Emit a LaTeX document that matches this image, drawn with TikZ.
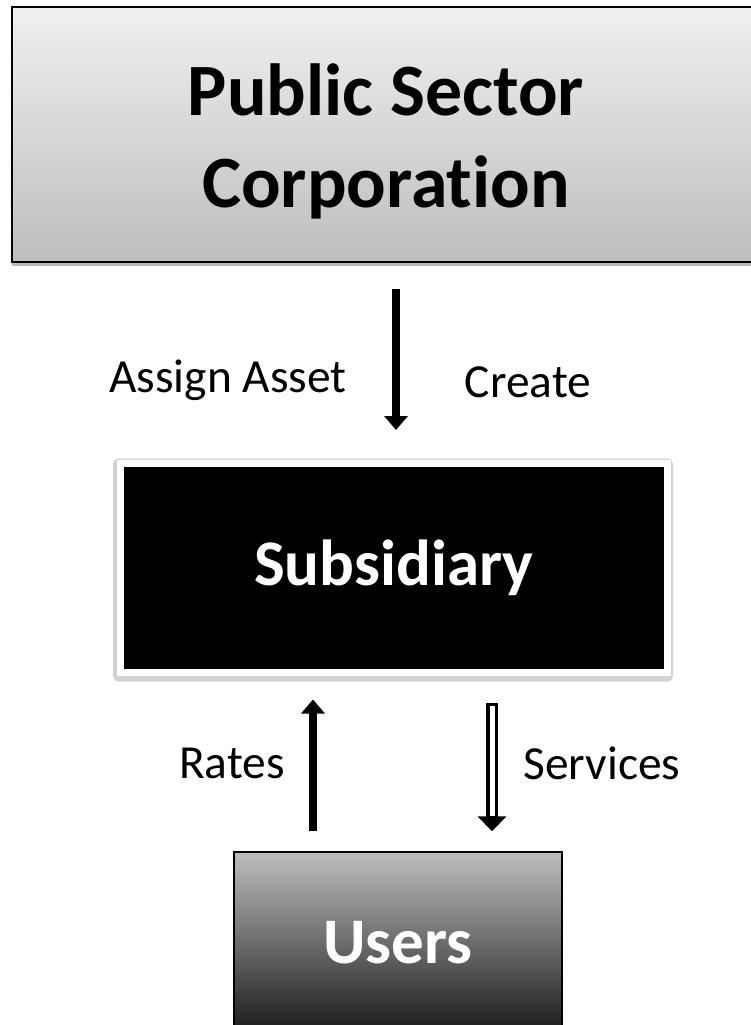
\documentclass[tikz,border=0pt]{standalone}
\usepackage{fontspec}
\setmainfont[Ligatures=NoCommon]{Carlito}
\usetikzlibrary{arrows.meta, positioning, shadows, backgrounds, calc}
\definecolor{boxtop}{RGB}{240, 240, 240}
\definecolor{boxbot}{RGB}{189, 189, 189}
\definecolor{usertop}{RGB}{190, 190, 190}
\definecolor{userbot}{RGB}{25, 25, 25}
\definecolor{shadowgray}{RGB}{210, 210, 210}
\tikzset{
  corp/.style   = {rectangle, draw=black, line width=0.8pt, shading=axis,
                   top color=boxtop, bottom color=boxbot,
                   drop shadow={shadow xshift=0pt, shadow yshift=-2pt, fill=gray!70, opacity=0.8}},
  corptext/.style = {align=center, font=\fontsize{42}{50}\selectfont\bfseries},
  subbox/.style = {rectangle, fill=black, draw=white, line width=0.14cm,
                   text=white, font=\fontsize{37}{44}\selectfont\bfseries},
  userbox/.style= {rectangle, draw=black, line width=0.8pt, shading=axis,
                   top color=usertop, bottom color=userbot, text=white,
                   font=\fontsize{37}{44}\selectfont\bfseries},
  lbl/.style    = {font=\fontsize{27}{32}\selectfont},
  flow/.style   = {-{Triangle[length=0.28cm, width=0.46cm]}, line width=0.16cm},
  flowout/.style = {-{Triangle[length=0.3cm, width=0.56cm]}, line width=0.24cm},
  flowcore/.style = {white, line width=0.1cm, shorten <=0.06cm, shorten >=0.3cm},
}
\begin{document}
\begin{tikzpicture}
\useasboundingbox (0,0) rectangle (15.02,-20.5);

% ===================== boxes =====================
\node[corp, minimum width=14.96cm, minimum height=5.1cm] (corp) at (7.72,-2.69) {};
\node[corptext] (title) at ([yshift=-0.14cm]corp.center) {Public Sector\\[2pt]Corporation};
\node[subbox, minimum width=10.93cm, minimum height=4.17cm] (sub) at (7.875,-11.355)
  {Subsidiary};
\node[userbox, minimum width=6.56cm, minimum height=3.64cm] (users) at (7.96,-18.86)
  {Users};

% soft shadow behind the subsidiary frame
\begin{scope}[on background layer]
  \fill[white] (0,0) rectangle (15.02,-20.5);
  \fill[shadowgray, rounded corners=3pt] ([shift={(-0.08,-0.12)}]sub.south west) rectangle ([shift={(0.05,0.03)}]sub.north east);
\end{scope}

% ===================== arrows =====================
\draw[flow] (corp.south -| 7.92,0) ++(0,-0.52) -- ($(sub.north -| 7.92,0) + (0,0.6)$);
\draw[flow] ($(users.north -| 6.26,0) + (0,0.4)$) -- ($(sub.south -| 6.26,0) + (0,-0.48)$);
\coordinate (svtop) at ($(sub.south -| 9.84,0) + (0,-0.55)$);
\coordinate (svend) at ($(users.north -| 9.84,0) + (0,0.4)$);
\draw[flowout] (svtop) -- (svend);
\draw[flowcore] (svtop) -- (svend);

% ===================== labels =====================
\node[lbl] (assign)   at (4.56,-7.6)   {Assign Asset};
\node[lbl] (create)   at (10.56,-7.64) {Create};
\node[lbl] (rates)    at (4.64,-15.26) {Rates};
\node[lbl] (services) at (12.04,-15.26) {Services};

\end{tikzpicture}
\end{document}
